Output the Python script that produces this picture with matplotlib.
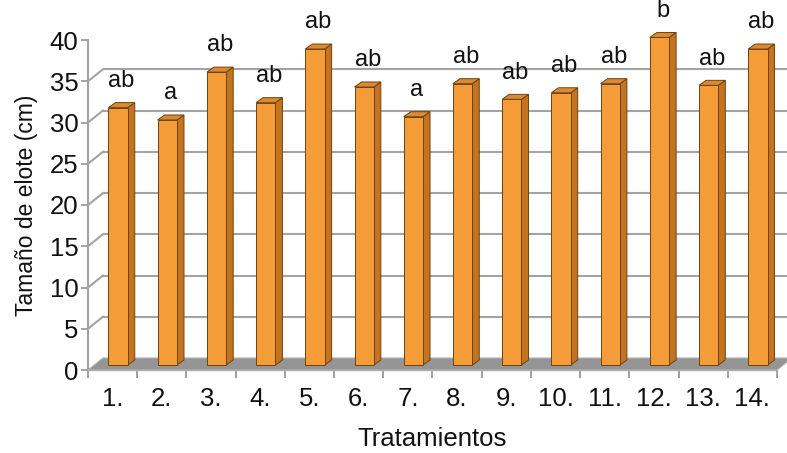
import matplotlib
matplotlib.use("Agg")
import matplotlib.pyplot as plt
from matplotlib.patches import Polygon, Rectangle

plt.rcParams['font.family'] = ['Liberation Sans', 'DejaVu Sans']

categories = ["1.", "2.", "3.", "4.", "5.", "6.", "7.", "8.", "9.", "10.", "11.", "12.", "13.", "14."]
values = [31.2, 29.7, 35.5, 31.8, 38.3, 33.7, 30.1, 34.1, 32.2, 33.0, 34.1, 39.7, 33.9, 38.3]
letters = ["ab", "a", "ab", "ab", "ab", "ab", "a", "ab", "ab", "ab", "ab", "b", "ab", "ab"]
yticks = [0, 5, 10, 15, 20, 25, 30, 35, 40]

W, H = 787, 453
fig = plt.figure(figsize=(W / 100, H / 100), dpi=100)
ax = fig.add_axes([88 / W, (H - 370) / H, (777 - 88) / W, (370 - 40) / H])
n = len(categories)
ax.set_xlim(0, n)
ax.set_ylim(0, 40)

# pixel scales
px_x = (777 - 88) / n
px_y = (370 - 40) / 40.0
DX, DY = 15 / px_x, 12 / px_y          # full depth of the plot box
SX, SY = 5.5 / px_x, 5 / px_y          # bar front plane shift
BDX, BDY = 7 / px_x, 5 / px_y          # bar depth
BW = 19.3 / px_x                        # bar width

grid_c = "#a3a3a3"
# back wall gridlines and side wall diagonals
for v in yticks[1:-1]:
    ax.plot([DX, n + DX], [v + DY, v + DY], color=grid_c, lw=1.5, zorder=1, clip_on=False,
            solid_capstyle='butt')
    ax.plot([0, DX], [v, v + DY], color=grid_c, lw=1.5, zorder=1, clip_on=False)

# floor
ax.add_patch(Polygon([(0, 0), (n, 0), (n + DX, DY), (DX, DY)], closed=True,
                     facecolor="#959595", edgecolor="#b0b0b0", lw=0.8, zorder=2, clip_on=False))

front_c = "#F49C38"
top_c = "#D98A32"
side_c = "#C4741F"
edge_c = "#6e4210"
for i, v in enumerate(values):
    x0 = i + 0.5 - BW / 2 + SX
    x1 = x0 + BW
    y0 = SY
    y1 = SY + v
    ax.add_patch(Polygon([(x1, y0), (x1 + BDX, y0 + BDY), (x1 + BDX, y1 + BDY), (x1, y1)],
                         closed=True, facecolor=side_c, edgecolor=edge_c, lw=0.7, zorder=3, clip_on=False))
    ax.add_patch(Polygon([(x0, y1), (x1, y1), (x1 + BDX, y1 + BDY), (x0 + BDX, y1 + BDY)],
                         closed=True, facecolor=top_c, edgecolor=edge_c, lw=0.7, zorder=3, clip_on=False))
    ax.add_patch(Rectangle((x0, y0), BW, v, facecolor=front_c, edgecolor=edge_c, lw=0.7,
                           zorder=4, clip_on=False))
    ax.text((x0 + x1) / 2 + BDX / 2, y1 + BDY + 1.3, letters[i], ha='center', va='bottom',
            fontsize=17, color="#111111", zorder=5, clip_on=False)

# axes styling
for s in ['top', 'right']:
    ax.spines[s].set_visible(False)
ax.spines['left'].set_color(grid_c)
ax.spines['bottom'].set_color("#b0b0b0")
ax.spines['left'].set_linewidth(1.5)
ax.spines['bottom'].set_linewidth(1.0)
ax.spines['left'].set_zorder(2.5)
ax.set_yticks(yticks)
ax.set_yticklabels([str(t) for t in yticks])
ax.set_xticks(range(0, n + 1))
ax.set_xticklabels([])
ax.set_xticks([i + 0.5 for i in range(n)], minor=True)
ax.set_xticklabels(categories, minor=True)
ax.tick_params(axis='y', direction='out', length=5, width=1.4, color=grid_c,
               labelsize=18.5, pad=2, labelcolor="#111111")
ax.tick_params(axis='x', which='major', direction='out', length=6, width=1.4, color="#a0a0a0")
ax.tick_params(axis='x', which='minor', length=0, labelsize=18.5, pad=12, labelcolor="#111111")
ax.set_facecolor('none')

ax.set_xlabel("Tratamientos", fontsize=18.5, labelpad=12, color="#111111")
ax.set_ylabel("Tamaño de elote (cm)", fontsize=16.5, labelpad=8, color="#111111")

fig.savefig("out.png", dpi=100)
